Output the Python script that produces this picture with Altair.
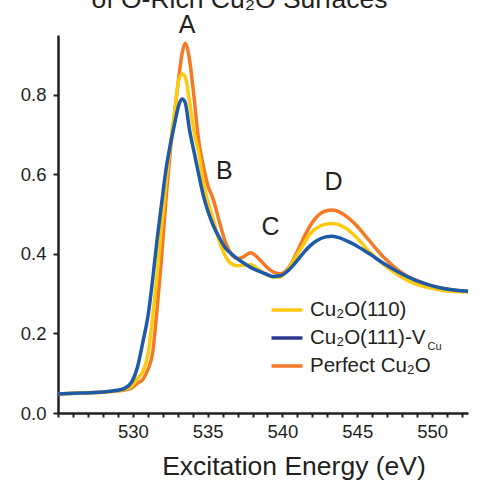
import altair as alt
import pandas as pd

# O K-edge spectra: excitation energy (eV) and normalised intensity
energy = [
    525.0, 526.45, 527.95, 528.95, 529.45, 529.93, 530.33, 530.68, 531.02, 531.32,
    531.62, 531.92, 532.21, 532.51, 532.81, 533.06, 533.30, 533.50, 533.80, 534.10,
    534.40, 534.69, 534.99, 535.39, 535.79, 536.18, 536.58, 536.98, 537.37, 537.87,
    538.36, 538.86, 539.36, 539.86, 540.35, 540.85, 541.35, 541.84, 542.34, 542.83,
    543.33, 543.83, 544.32, 544.82, 545.81, 546.80, 547.80, 548.79, 549.78, 550.77,
    552.40,
]
cu2o_110 = [
    0.048, 0.050, 0.053, 0.056, 0.060, 0.068, 0.088, 0.105, 0.150, 0.240,
    0.345, 0.470, 0.575, 0.675, 0.760, 0.835, 0.852, 0.845, 0.780, 0.705,
    0.655, 0.585, 0.535, 0.485, 0.430, 0.395, 0.375, 0.370, 0.372, 0.373,
    0.362, 0.350, 0.342, 0.342, 0.360, 0.390, 0.420, 0.450, 0.466, 0.474,
    0.476, 0.472, 0.462, 0.446, 0.405, 0.372, 0.345, 0.326, 0.315, 0.308,
    0.304,
]
cu2o_111_vcu = [
    0.048, 0.050, 0.053, 0.057, 0.062, 0.078, 0.118, 0.180, 0.245, 0.334,
    0.435, 0.525, 0.610, 0.675, 0.730, 0.772, 0.789, 0.780, 0.709, 0.655,
    0.600, 0.550, 0.510, 0.470, 0.440, 0.415, 0.400, 0.388, 0.378, 0.366,
    0.357, 0.350, 0.343, 0.345, 0.357, 0.377, 0.400, 0.420, 0.434, 0.442,
    0.444, 0.440, 0.432, 0.423, 0.400, 0.375, 0.353, 0.335, 0.322, 0.313,
    0.306,
]
perfect_cu2o = [
    0.048, 0.050, 0.052, 0.055, 0.058, 0.063, 0.075, 0.085, 0.110, 0.150,
    0.260, 0.390, 0.535, 0.660, 0.760, 0.840, 0.905, 0.929, 0.885, 0.790,
    0.685, 0.625, 0.575, 0.535, 0.480, 0.430, 0.400, 0.388, 0.392, 0.403,
    0.390, 0.370, 0.355, 0.350, 0.362, 0.395, 0.435, 0.470, 0.495, 0.507,
    0.510, 0.505, 0.493, 0.476, 0.433, 0.390, 0.357, 0.335, 0.322, 0.313,
    0.306,
]

series_labels = ["Cu₂O(110)", "Cu₂O(111)-V", "Perfect Cu₂O"]
series_values = [cu2o_110, cu2o_111_vcu, perfect_cu2o]
line_colors = ["#FFC90E", "#1D5AA8", "#F47A26"]
legend_colors = ["#FFC90E", "#2B3990", "#F47A26"]
draw_order = [2, 0, 1]  # orange underneath, blue on top

peak_letters = ["A", "B", "C", "D"]
peak_energy = [533.62, 536.11, 539.2, 543.42]
peak_height = [0.976, 0.608, 0.468, 0.581]

INK = "#231f20"
FONT = "Liberation Sans"

frames = []
for label, values in zip(series_labels, series_values):
    frames.append(pd.DataFrame({"energy": energy, "intensity": values, "series": label}))
spectra = pd.concat(frames, ignore_index=True)

x_enc = alt.X(
    "energy:Q",
    scale=alt.Scale(domain=[525, 552.4], nice=False, zero=False),
    axis=alt.Axis(
        values=list(range(525, 553)),
        format="d",
        labelExpr="datum.value % 5 === 0 && datum.value > 525 ? datum.label : ''",
        labelOverlap=False,
        labelFlush=False,
        labelFontSize=18.5,
        labelPadding=5,
        tickSize=4,
        tickWidth=2,
        domainWidth=2.5,
        grid=False,
        title="Excitation Energy (eV)",
        titleFontSize=26.5,
        titleFontWeight="normal",
        titleAlign="center",
        titleBaseline="alphabetic",
        titleX=235.5,
        titleY=61,
    ),
)
y_enc = alt.Y(
    "intensity:Q",
    scale=alt.Scale(domain=[0, 0.95], nice=False),
    axis=alt.Axis(
        values=[0, 0.2, 0.4, 0.6, 0.8],
        format=".1f",
        labelFontSize=18.5,
        labelPadding=7,
        tickSize=5,
        tickWidth=2,
        domainWidth=2.5,
        grid=False,
        title=None,
    ),
)

layers = []
for i in draw_order:
    layers.append(
        alt.Chart(spectra)
        .transform_filter(alt.datum.series == series_labels[i])
        .mark_line(interpolate="monotone", strokeWidth=3.5, color=line_colors[i])
        .encode(x=x_enc, y=y_enc)
    )

# peak letters
peaks = pd.DataFrame({"energy": peak_energy, "intensity": peak_height, "letter": peak_letters})
layers.append(
    alt.Chart(peaks)
    .mark_text(fontSize=25, font=FONT, color=INK, baseline="middle", align="center")
    .encode(x=x_enc, y=y_enc, text="letter:N")
)

# title line sitting above the frame
one = pd.DataFrame({"k": [0]})
layers.append(
    alt.Chart(one)
    .mark_text(fontSize=26.5, font=FONT, color=INK, baseline="alphabetic", align="center")
    .encode(x=alt.value(181.5), y=alt.value(-27.5), text=alt.value("of O-Rich Cu₂O Surfaces"))
)

# legend
for row, (label, color) in enumerate(zip(series_labels, legend_colors)):
    ypos = 275 + row * 28
    layers.append(
        alt.Chart(one)
        .mark_rule(strokeWidth=3.5, color=color)
        .encode(x=alt.value(213.5), x2=alt.value(244.5), y=alt.value(ypos))
    )
    layers.append(
        alt.Chart(one)
        .mark_text(fontSize=20.5, font=FONT, color=INK, baseline="middle", align="left")
        .encode(x=alt.value(252), y=alt.value(ypos), text=alt.value(label))
    )
layers.append(
    alt.Chart(one)
    .mark_text(fontSize=11, font=FONT, color=INK, baseline="middle", align="left")
    .encode(x=alt.value(369.5), y=alt.value(312), text=alt.value("Cu"))
)

chart = (
    alt.layer(*layers)
    .properties(
        width=410,
        height=378,
        padding={"left": 58, "top": 35, "right": 14, "bottom": 83},
        autosize=alt.AutoSizeParams(type="none"),
        background="white",
    )
    .configure_axis(
        domainColor=INK,
        tickColor=INK,
        labelColor=INK,
        titleColor=INK,
        labelFont=FONT,
        titleFont=FONT,
    )
    .configure_view(stroke=None)
)

chart.save("out.html", embed_options={"renderer": "svg", "actions": False})
